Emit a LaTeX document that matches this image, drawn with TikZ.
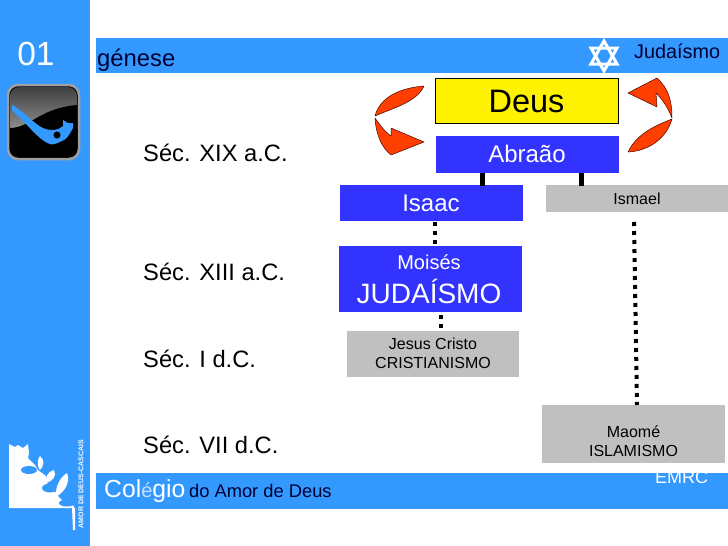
\documentclass[tikz,border=0pt]{standalone}
\usepackage{fontspec}
\setmainfont{Liberation Sans}
\definecolor{skyb}{HTML}{3399FF}
\definecolor{royb}{HTML}{3333FF}
\definecolor{gry}{HTML}{C0C0C0}
\definecolor{navy}{HTML}{000033}
\definecolor{arrowred}{HTML}{FF3F00}
\tikzset{
 x=1pt,y=-1pt,
 txt/.style={inner sep=0pt,font=\fontsize{#1}{#1}\selectfont},
 sec/.style={inner sep=0pt,anchor=base west,font=\fontsize{23.7}{24}\selectfont},
 bluebox/.style={fill=royb,text=white,inner sep=0pt,align=center},
 greybox/.style={fill=gry,text=black,inner sep=0pt,align=center},
 twoline/.style={inner sep=0pt,align=center,font=\fontsize{16}{19}\selectfont},
 solidlink/.style={line width=4.5pt},
 dotlink/.style={line width=4pt,dash pattern=on 4pt off 5pt},
 blade/.style={fill=arrowred,draw=black!70!red,line width=.5pt,line join=round},
}
\begin{document}
\begin{tikzpicture}
\useasboundingbox (0,0) rectangle (728,546);
\fill[white] (0,0) rectangle (728,546);
\fill[skyb] (0,0) rectangle (90,546);
\fill[skyb] (96,38) rectangle (728,73);
\fill[skyb] (96,473) rectangle (728,509);
\node[txt=33.5,text=white,anchor=base] (num) at (36,65) {01};
\node[txt=23.8,text=navy,anchor=base west] (gen) at (97,66) {génese};
\node[txt=19.8,text=navy,anchor=base west] (jud) at (634,58) {Judaísmo};
% Star
\draw[white,line width=3pt,line join=miter] (604,41)--(617,64)--(591,64)--cycle;
\draw[white,line width=3pt,line join=miter] (604,71)--(617,48)--(591,48)--cycle;
% top logo
\draw[rounded corners=10pt,fill=black,draw=gray!75,line width=2.5pt] (8,85) rectangle (79,159);
\begin{scope}
\clip[rounded corners=9pt] (10,87) rectangle (77,157);
\shade[top color=black!75,bottom color=black!45] (10,87) rectangle (77,128);
\fill[black] (10,128) .. controls (30,128) and (40,108) .. (77,105) -- (77,157) -- (10,157) -- cycle;
\end{scope}
\fill[skyb] (12,105) .. controls (20,108) and (35,125) .. (43,128) .. controls (50,131) and (58,131) .. (63,126) -- (63,120) -- (68,123) -- (73,123) -- (73,128) .. controls (70,134) and (66,140) .. (62,141) .. controls (56,144) and (52,145) .. (50,144) .. controls (42,142) and (32,130) .. (23,121) .. controls (18,116) and (14,113) .. (12,110) -- cycle;
\fill[black] (57,135) circle (3.5pt);
% bottom-left logo
\fill[white] (9,444) -- (15,447) -- (18,445) -- (23,448) -- (28,444) -- (29,453) -- (28,458) -- (35,465)
 -- (38,470) -- (46,476) -- (47,483) -- (54,490) -- (58,496) -- (62,500) -- (74,506) -- (74,508) -- (9,508) -- cycle;
\fill[skyb] (29,470) ellipse (8pt and 4pt);
\fill[skyb] (50,488) ellipse (8pt and 4.5pt);
\fill[skyb] (67,503) ellipse (8pt and 3.5pt);
\fill[white] (40,456) .. controls (36,462) and (38,468) .. (40,470) .. controls (44,466) and (45,460) .. (40,456) -- cycle;
\fill[white] (54,470) .. controls (47,472) and (45,478) .. (46,483) .. controls (53,481) and (57,476) .. (54,470) -- cycle;
\fill[white] (67,473) .. controls (59,478) and (55,488) .. (56,497) .. controls (64,492) and (71,483) .. (67,473) -- cycle;
\fill[white] (72,508) -- (75,508) -- (75,530) -- (73,530) -- cycle;
\node[txt=7,text=white,rotate=90,anchor=center] (vert) at (81,484) {\bfseries AMOR DE DEUS-CASCAIS};
% Boxes
\node[draw=black,fill=yellow,line width=.8pt,minimum width=183pt,minimum height=45.5pt,txt=32.5] (deus) at (526.5,101) {\raisebox{-1pt}{Deus}};
\node[bluebox,minimum width=183pt,minimum height=37pt,font=\fontsize{24}{24}\selectfont] (abr) at (527,154) {\raisebox{-1pt}{Abraão}};
\node[bluebox,minimum width=183pt,minimum height=36pt,font=\fontsize{24}{24}\selectfont] (isaac) at (431,203) {\raisebox{-2pt}{Isaac}};
\node[greybox,minimum width=183pt,minimum height=27pt,font=\fontsize{16}{18}\selectfont] (ism) at (637,198.5) {Ismael};
\node[bluebox,minimum width=183pt,minimum height=66pt] (moi) at (430,279) {};
\node[txt=20,text=white,anchor=base] (moit) at (429,269) {Moisés};
\node[txt=28,text=white,anchor=base] (judt) at (429,303) {JUDAÍSMO};
\node[greybox,minimum width=172pt,minimum height=46pt] (jc) at (433,353.5) {};
\node[twoline] (jct) at (433,353.5) {Jesus Cristo\\CRISTIANISMO};
\node[greybox,minimum width=183pt,minimum height=58pt] (mao) at (633.5,434) {};
\node[twoline] (maot) at (633.5,441) {Maomé\\ISLAMISMO};
% Links
\coordinate (c1) at (482.5,186);
\coordinate (c2) at (581.5,186);
\draw[solidlink] (c1 |- abr.south) -- (c1);
\draw[solidlink] (c2 |- abr.south) -- (c2);
\coordinate (d1) at (435,222);
\coordinate (d2) at (441,315);
\coordinate (d3) at (634,222);
\coordinate (d4) at (637,405);
\draw[dotlink] (d1) -- (d1 |- moi.north);
\draw[dotlink] (d2) -- (d2 |- jc.north);
\draw[dotlink] (d3) -- (d4);
% Red arrows
\draw[blade] (424,86) .. controls (400,88) and (380,97) .. (375,116) .. controls (393,108) and (417,102) .. (424,86) -- cycle;
\draw[blade] (375,118) .. controls (376,135) and (382,148) .. (391,155) -- (424,142) -- (391,128) -- (391,136) .. controls (385,132) and (380,125) .. (375,118) -- cycle;
\draw[blade] (628,152) .. controls (650,151) and (667,137) .. (672,119) .. controls (657,125) and (637,133) .. (628,152) -- cycle;
\draw[blade] (672,118) .. controls (672,100) and (668,88) .. (657,78) -- (628,93) -- (657,107) -- (656,93) .. controls (663,100) and (668,108) .. (672,118) -- cycle;
% Left labels
\node[sec] (s1) at (143,161) {Séc. XIX a.C.};
\node[sec] (s2) at (143,280) {Séc. XIII a.C.};
\node[sec] (s3) at (143,367) {Séc. I d.C.};
\node[sec] (s4) at (143,453) {Séc. VII d.C.};
\node[txt=24.7,text=white,anchor=base west] (col) at (104,497) {Col\textcolor{white!70!skyb}{\fontsize{20}{20}\selectfont é}gio};
\node[txt=18.3,text=navy,anchor=base west] (amor) at (189,497) {do Amor de Deus};
\begin{scope}
\clip (640,473) rectangle (728,509);
\node[txt=18,text=white,anchor=base] (emrc) at (681.5,483) {EMRC};
\end{scope}
\end{tikzpicture}
\end{document}
